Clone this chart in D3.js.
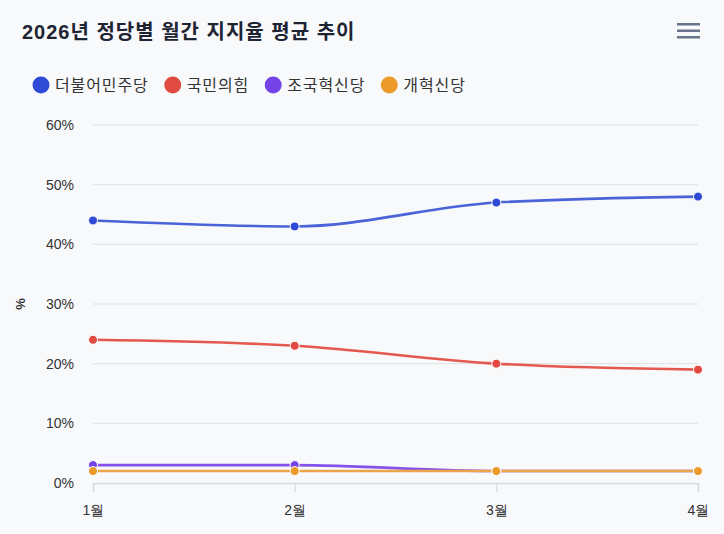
<!DOCTYPE html>
<html>
<head>
<meta charset="utf-8">
<script src="https://cdn.jsdelivr.net/npm/d3@7"></script>
<style>
  html, body { margin: 0; padding: 0; background: #f8f9fb; }
  svg { display: block; font-family: "Liberation Sans", "Noto Sans CJK KR", sans-serif; }
</style>
</head>
<body>
<div id="chart"></div>
<script>
// mois
const months = ["1월", "2월", "3월", "4월"];

// séries (en %)
const parties = ["더불어민주당", "국민의힘", "조국혁신당", "개혁신당"];
const minjoo = [44, 43, 47, 48];
const ppp = [24, 23, 20, 19];
const rebuild = [3, 3, 2, 2];
const reform = [2, 2, 2, 2];
const colors = ["#2d4bd6", "#e04a40", "#7443e6", "#ec9a2a"];
const lineColors = ["#4a63d9", "#e4594f", "#8551e8", "#eda34a"];

const yTicks = [0, 10, 20, 30, 40, 50, 60];

const title = "2026년 정당별 월간 지지율 평균 추이";

//---------------------------------------------------------------------------------------

const W = 724, H = 534;
const margin = { left: 93, right: 26, top: 125, bottom: 51 };

const svg = d3.select("#chart")
  .append("svg")
  .attr("width", W)
  .attr("height", H);

svg.append("rect").attr("width", W).attr("height", H).attr("fill", "#f8f9fb");

// titre
svg.append("text")
  .attr("x", 22).attr("y", 39)
  .attr("font-size", 20).attr("font-weight", "bold")
  .attr("letter-spacing", 1)
  .attr("fill", "#1f2433")
  .text(title);

// menu (hamburger)
[0, 1, 2].forEach(i => {
  svg.append("rect")
    .attr("x", 677).attr("y", 23 + i * 6.5)
    .attr("width", 23).attr("height", 2.5)
    .attr("fill", "#66758a");
});

// échelles
const x = d3.scalePoint().domain(months).range([margin.left, W - margin.right]);
const y = d3.scaleLinear().domain([0, 60]).range([H - margin.bottom, margin.top]);

// grille
svg.append("g")
  .selectAll("line")
  .data(yTicks.filter(d => d > 0))
  .join("line")
  .attr("x1", margin.left).attr("x2", W - margin.right)
  .attr("y1", d => y(d)).attr("y2", d => y(d))
  .attr("stroke", "#dde0e5").attr("stroke-width", 1);

// axe y
const yAxis = svg.append("g")
  .attr("transform", `translate(${margin.left - 16},0)`)
  .call(d3.axisLeft(y).tickValues(yTicks).tickFormat(d => d + "%").tickSize(0));
yAxis.select(".domain").remove();
yAxis.selectAll("text").attr("font-size", 14).attr("fill", "#333").attr("dx", 0).attr("dy", "0.32em");

svg.append("text")
  .attr("transform", `translate(25,${y(30)}) rotate(-90)`)
  .attr("text-anchor", "middle")
  .attr("font-size", 13).attr("font-weight", "bold")
  .attr("fill", "#333")
  .text("%");

// axe x
const xAxis = svg.append("g")
  .attr("transform", `translate(0,${y(0)})`)
  .call(d3.axisBottom(x).tickSize(9).tickPadding(13));
xAxis.select(".domain").attr("stroke", "#d6d9de").attr("stroke-width", 1.5);
xAxis.selectAll(".tick line").attr("stroke", "#d6d9de").attr("stroke-width", 1.2);
xAxis.selectAll("text").attr("font-size", 14).attr("fill", "#333");

// courbes
const series = [minjoo, ppp, rebuild, reform];
const line = d3.line()
  .x((d, i) => x(months[i]))
  .y(d => y(d))
  .curve(d3.curveMonotoneX);

series.forEach((vals, k) => {
  svg.append("path")
    .attr("d", line(vals))
    .attr("fill", "none")
    .attr("stroke", lineColors[k])
    .attr("stroke-width", 2.6);
});

series.forEach((vals, k) => {
  svg.append("g")
    .selectAll("circle")
    .data(vals)
    .join("circle")
    .attr("cx", (d, i) => x(months[i]))
    .attr("cy", d => y(d))
    .attr("r", 4.5)
    .attr("fill", colors[k])
    .attr("stroke", "#fff")
    .attr("stroke-width", 1);
});

// légende
const legend = svg.append("g").attr("transform", "translate(0,85)");
let lx = 32;
parties.forEach((p, k) => {
  const g = legend.append("g").attr("transform", `translate(${lx},0)`);
  g.append("circle").attr("cx", 9).attr("cy", 0).attr("r", 8.5).attr("fill", colors[k]);
  const t = g.append("text")
    .attr("x", 23).attr("y", 6)
    .attr("font-size", 16).attr("fill", "#333")
    .attr("letter-spacing", 0.9)
    .text(p);
  lx += 23 + t.node().getComputedTextLength() + 15;
});
</script>
</body>
</html>
